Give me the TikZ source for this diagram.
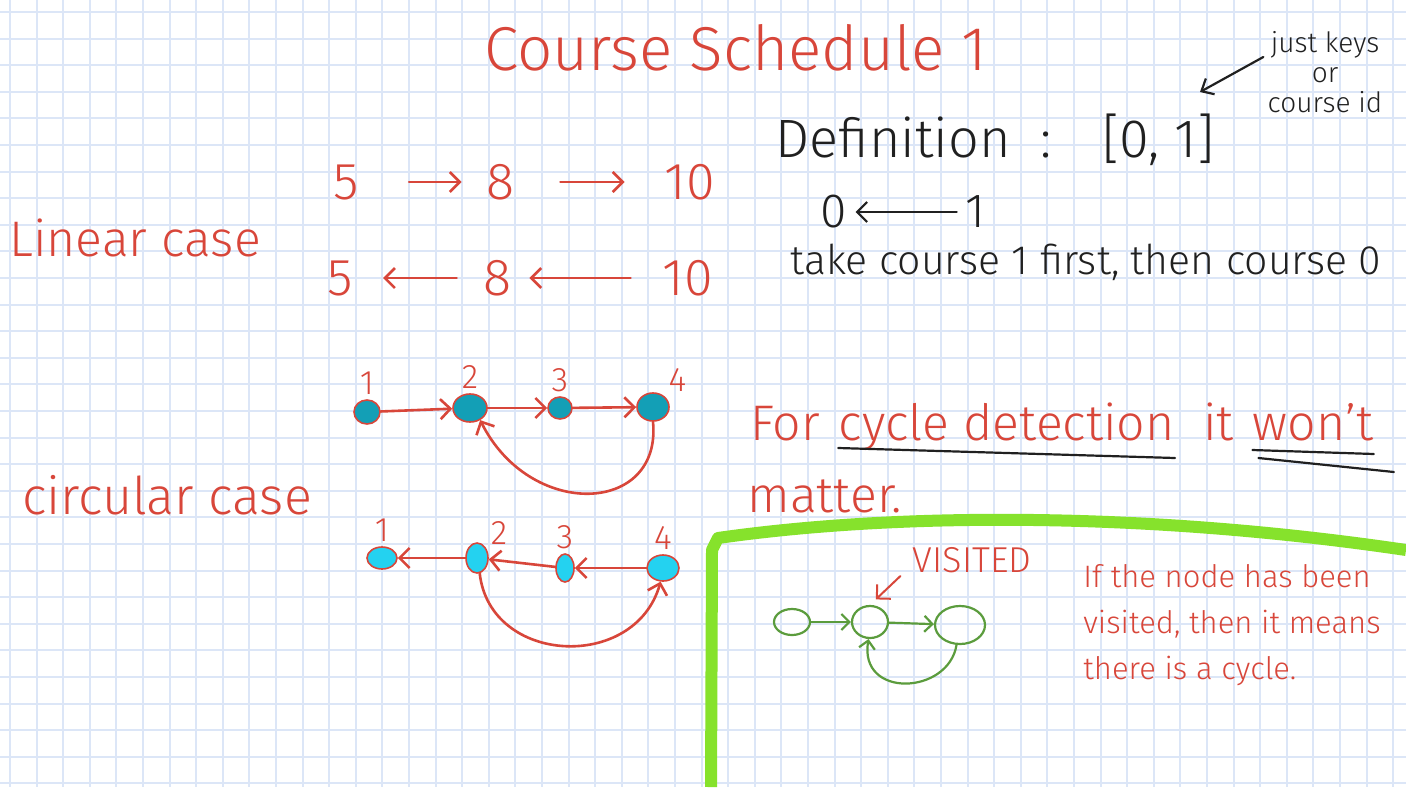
\documentclass[tikz,border=0pt]{standalone}
\usepackage{fontspec}
\setmainfont{Fira Sans}[UprightFont=* Light]
\usetikzlibrary{arrows.meta,positioning,shapes.geometric}
\definecolor{ink}{HTML}{D8463A}
\definecolor{pencil}{HTML}{202020}
\definecolor{nodeteal}{HTML}{139FB6}
\definecolor{nodecyan}{HTML}{24D2F0}
\definecolor{marker}{HTML}{86E22C}
\definecolor{leaf}{HTML}{5B9C3D}
\definecolor{paper}{HTML}{DCE6F7}

\begin{document}
\begin{tikzpicture}[
		x=0.5pt,y=-0.5pt,
		inkred/.style={text=ink,inner sep=0pt},
		inkblack/.style={text=pencil,inner sep=0pt},
		digit/.style={text=ink,inner sep=9pt,font=\fontsize{26}{26}\selectfont},
		pen/.style={draw=ink,line width=1.3pt,line cap=round,-{Straight Barb[length=5pt,width=10pt]}},
		penblk/.style={draw=pencil,line width=1.1pt,line cap=round},
		dot/.style={ellipse,draw=ink,line width=0.8pt,inner sep=0pt},
		tealdot/.style={dot,fill=nodeteal},
		cyandot/.style={dot,fill=nodecyan},
		numlbl/.style={text=ink,font=\fontsize{17}{17}\selectfont,inner sep=2pt},
		ring/.style={ellipse,draw=leaf,line width=1.1pt,inner sep=0pt},
		twig/.style={draw=leaf,line width=1.1pt,line cap=round,-{Straight Barb[length=4pt,width=8pt]}},
		highlight/.style={draw=marker,line width=6pt,line join=round},
		gridline/.style={draw=paper,line width=1pt},
		]
		\fill[white] (0,0) rectangle (1406,787);
		\useasboundingbox (0,0) rectangle (1406,787);
		
		% graph paper
		\foreach \i in {0,...,52}
		{\draw[gridline] ({10+26.6*\i},0) -- ({10+26.6*\i},787);}
		\foreach \j in {0,...,29}
		{\draw[gridline] (0,{12+26.6*\j}) -- (1406,{12+26.6*\j});}
		
		% title, definition
		\node[inkred,font=\fontsize{31}{31}\selectfont] (title) at (736,48) {Course Schedule 1};
		\node[inkblack,font=\fontsize{27}{27}\selectfont] (defn) at (995,140) {Definition \ : \ \ [0, 1]};
		\node[inkblack,font=\fontsize{14}{15}\selectfont,align=center] (keys) at (1325,72) {just keys\\or\\course id};
		\coordinate (keytip) at (1200,92);
		\draw[penblk,-{Straight Barb[length=5pt,width=9pt]}] ([shift={(-4,-15)}]keys.west) -- (keytip);
		
		\node[inkblack,font=\fontsize{24}{24}\selectfont] (c0) at (834,212) {0};
		\node[inkblack,font=\fontsize{24}{24}\selectfont] (c1) at (975,212) {1};
		\draw[penblk,-{Straight Barb[length=5pt,width=10pt]},shorten <=4pt,shorten >=4pt] (c1) -- (c0);
		\node[inkblack,font=\fontsize{20.5}{20.5}\selectfont,anchor=west] (order) at (790,262) {take course 1 first, then course 0};
		
		% linear case
		\node[inkred,font=\fontsize{25}{25}\selectfont] (lincase) at (135,238) {Linear case};
		\node[digit] (fa) at (346,182) {5};
		\node[digit] (fb) at (500,182) {8};
		\node[digit] (fc) at (690,182) {10};
		\draw[pen,shorten <=16pt,shorten >=3pt] (fa) -- (fb);
		\draw[pen,shorten <=14pt,shorten >=11pt] (fb) -- (fc);
		\node[digit] (ra) at (340,278) {5};
		\node[digit] (rb) at (497,278) {8};
		\node[digit] (rc) at (688,278) {10};
		\draw[pen,shorten <=7pt] (rc) -- (rb);
		\draw[pen,shorten <=4pt,shorten >=6pt] (rb) -- (ra);
		
		% circular case
		\node[inkred,font=\fontsize{26}{26}\selectfont] (circcase) at (167,495) {circular case};
		\node[tealdot,minimum width=13pt,minimum height=12pt,label={[numlbl]above:1}] (t1) at (367,412) {};
		\node[tealdot,minimum width=17pt,minimum height=14pt,label={[numlbl]above:2}] (t2) at (470,408) {};
		\node[tealdot,minimum width=12pt,minimum height=11pt,label={[numlbl]above:3}] (t3) at (560,408) {};
		\node[tealdot,minimum width=16pt,minimum height=14pt,label={[numlbl]above right=0pt and -4pt:4}] (t4) at (653,407) {};
		\draw[pen] (t1) -- (t2);
		\draw[pen] (t2) -- (t3);
		\draw[pen] (t3) -- (t4);
		\draw[pen] (t4.south) .. controls (662,515) and (530,520) .. (t2.-50);
		
		\node[cyandot,minimum width=15pt,minimum height=11pt,label={[numlbl]above:1}] (b1) at (382,558) {};
		\node[cyandot,minimum width=11pt,minimum height=15pt,label={[numlbl]above right=0pt and -6pt:2}] (b2) at (477,558) {};
		\node[cyandot,minimum width=9pt,minimum height=14pt,label={[numlbl]above:3}] (b3) at (565,568) {};
		\node[cyandot,minimum width=16pt,minimum height=13pt,label={[numlbl]above:4}] (b4) at (663,568) {};
		\draw[pen] (b2) -- (b1);
		\draw[pen] (b3) -- (b2);
		\draw[pen] (b4) -- (b3);
		\draw[pen] (b2.-80) .. controls (490,665) and (635,672) .. (b4.-100);
		
		% cycle detection note
		\node[inkred,font=\fontsize{25}{25}\selectfont,anchor=base west] (for) at (750,440) {For};
		\node[inkred,font=\fontsize{25}{25}\selectfont,base right=9pt of for] (cycdet) {cycle detection};
		\node[inkred,font=\fontsize{25}{25}\selectfont,base right=14pt of cycdet] (itw) {it};
		\node[inkred,font=\fontsize{25}{25}\selectfont,base right=9pt of itw] (wont) {won't};
		\draw[penblk] ([yshift=-4pt]cycdet.base west) -- ([yshift=-9pt]cycdet.base east);
		\draw[penblk] ([yshift=-5pt]wont.base west) -- ([yshift=-7pt]wont.base east);
		\draw[penblk] ([xshift=3pt,yshift=-9pt]wont.base west) -- ([xshift=10pt,yshift=-16pt]wont.base east);
		\node[inkred,font=\fontsize{25}{25}\selectfont,anchor=base west] (matter) at (747,512) {matter.};
		
		\draw[highlight] (711,787) -- (712,550) -- (718,538) .. controls (900,512) and (1150,512) .. (1406,550);
		
		\node[ring,minimum width=18pt,minimum height=13pt] (g1) at (792,622) {};
		\node[ring,minimum width=18pt,minimum height=16pt] (g2) at (870,622) {};
		\node[ring,minimum width=25pt,minimum height=19pt] (g3) at (960,625) {};
		\draw[twig] (g1) -- (g2);
		\draw[twig] (g2) -- (g3);
		\draw[twig] (g3.-100) .. controls +(-8,50) and +(-10,60) .. (g2.-95);
		
		\node[inkred,font=\fontsize{18}{18}\selectfont] (visited) at (972,560) {VISITED};
		\draw[pen,line width=1pt,shorten >=4pt] ([xshift=-6pt,yshift=-8pt]visited.west) -- (g2.north);
		
		\node[inkred,font=\fontsize{15.5}{23}\selectfont,align=left,anchor=north west] (explain) at (1083,564) {If the node has been\\visited, then it means\\there is a cycle.};
\end{tikzpicture}
\end{document}
